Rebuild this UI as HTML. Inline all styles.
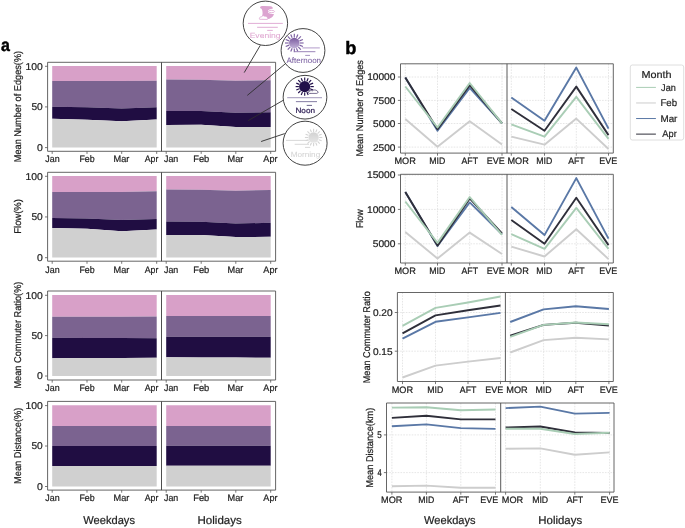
<!DOCTYPE html>
<html><head><meta charset="utf-8"><style>html,body{margin:0;padding:0;background:#fff;}svg{display:block;will-change:transform;font-family:"Liberation Sans",sans-serif;text-rendering:geometricPrecision;}</style></head><body>
<svg width="685" height="528" viewBox="0 0 685 528">
<rect width="685" height="528" fill="#ffffff"/>
<defs><linearGradient id="gaft" x1="0" y1="0" x2="0" y2="1"><stop offset="0" stop-color="#7a5a9e"/><stop offset="1" stop-color="#c2b2d8"/></linearGradient><linearGradient id="gmor" x1="0" y1="0" x2="0" y2="1"><stop offset="0" stop-color="#d2d2d2"/><stop offset="1" stop-color="#e6e6e6"/></linearGradient></defs>
<polygon points="52.20,65.90 87.00,65.90 121.70,65.90 156.70,65.90 156.70,80.70 121.70,80.90 87.00,81.00 52.20,81.05" fill="#d8a0c8"/>
<polygon points="52.20,81.05 87.00,81.00 121.70,80.90 156.70,80.70 156.70,107.30 121.70,108.60 87.00,107.30 52.20,106.80" fill="#7b6390"/>
<polygon points="52.20,106.80 87.00,107.30 121.70,108.60 156.70,107.30 156.70,119.40 121.70,121.20 87.00,119.70 52.20,118.80" fill="#200d42"/>
<polygon points="52.20,118.80 87.00,119.70 121.70,121.20 156.70,119.40 156.70,147.50 121.70,147.50 87.00,147.50 52.20,147.50" fill="#d0d0d0"/>
<polygon points="166.20,65.90 201.20,65.90 235.80,65.90 270.70,65.90 270.70,80.20 235.80,80.70 201.20,79.80 166.20,79.40" fill="#d8a0c8"/>
<polygon points="166.20,79.40 201.20,79.80 235.80,80.70 270.70,80.20 270.70,112.20 235.80,112.70 201.20,110.90 166.20,110.90" fill="#7b6390"/>
<polygon points="166.20,110.90 201.20,110.90 235.80,112.70 270.70,112.20 270.70,126.90 235.80,126.90 201.20,124.80 166.20,125.10" fill="#200d42"/>
<polygon points="166.20,125.10 201.20,124.80 235.80,126.90 270.70,126.90 270.70,147.50 235.80,147.50 201.20,147.50 166.20,147.50" fill="#d0d0d0"/>
<path d="M47.6,62.3H275.6V151.3H47.6Z" fill="none" stroke="#555555" stroke-width="0.9"/>
<line x1="161.5" y1="62.3" x2="161.5" y2="151.3" stroke="#444" stroke-width="0.95"/>
<line x1="45.0" y1="66.30" x2="47.6" y2="66.30" stroke="#555555" stroke-width="0.8"/>
<text x="25.46" y="69.75" font-size="9.9" textLength="17.29" lengthAdjust="spacingAndGlyphs" fill="#1e1e1e" stroke="#1e1e1e" stroke-width="0.22">100</text>
<line x1="45.0" y1="106.90" x2="47.6" y2="106.90" stroke="#555555" stroke-width="0.8"/>
<text x="31.44" y="110.35" font-size="9.9" textLength="11.30" lengthAdjust="spacingAndGlyphs" fill="#1e1e1e" stroke="#1e1e1e" stroke-width="0.22">50</text>
<line x1="45.0" y1="147.60" x2="47.6" y2="147.60" stroke="#555555" stroke-width="0.8"/>
<text x="36.94" y="151.05" font-size="9.9" textLength="5.82" lengthAdjust="spacingAndGlyphs" fill="#1e1e1e" stroke="#1e1e1e" stroke-width="0.22">0</text>
<line x1="52.2" y1="151.3" x2="52.2" y2="153.9" stroke="#555555" stroke-width="0.8"/>
<line x1="87.0" y1="151.3" x2="87.0" y2="153.9" stroke="#555555" stroke-width="0.8"/>
<line x1="121.7" y1="151.3" x2="121.7" y2="153.9" stroke="#555555" stroke-width="0.8"/>
<line x1="156.7" y1="151.3" x2="156.7" y2="153.9" stroke="#555555" stroke-width="0.8"/>
<line x1="166.2" y1="151.3" x2="166.2" y2="153.9" stroke="#555555" stroke-width="0.8"/>
<line x1="201.2" y1="151.3" x2="201.2" y2="153.9" stroke="#555555" stroke-width="0.8"/>
<line x1="235.8" y1="151.3" x2="235.8" y2="153.9" stroke="#555555" stroke-width="0.8"/>
<line x1="270.7" y1="151.3" x2="270.7" y2="153.9" stroke="#555555" stroke-width="0.8"/>
<text x="45.31" y="162.20" font-size="9.4" textLength="14.32" lengthAdjust="spacingAndGlyphs" fill="#1e1e1e" stroke="#1e1e1e" stroke-width="0.22">Jan</text>
<text x="79.42" y="162.20" font-size="9.4" textLength="15.30" lengthAdjust="spacingAndGlyphs" fill="#1e1e1e" stroke="#1e1e1e" stroke-width="0.22">Feb</text>
<text x="113.60" y="162.20" font-size="9.4" textLength="15.81" lengthAdjust="spacingAndGlyphs" fill="#1e1e1e" stroke="#1e1e1e" stroke-width="0.22">Mar</text>
<text x="144.73" y="162.20" font-size="9.4" textLength="13.66" lengthAdjust="spacingAndGlyphs" fill="#1e1e1e" stroke="#1e1e1e" stroke-width="0.22">Apr</text>
<text x="164.01" y="162.20" font-size="9.4" textLength="14.32" lengthAdjust="spacingAndGlyphs" fill="#1e1e1e" stroke="#1e1e1e" stroke-width="0.22">Jan</text>
<text x="193.18" y="162.20" font-size="9.4" textLength="16.16" lengthAdjust="spacingAndGlyphs" fill="#1e1e1e" stroke="#1e1e1e" stroke-width="0.22">Feb</text>
<text x="227.60" y="162.20" font-size="9.4" textLength="15.81" lengthAdjust="spacingAndGlyphs" fill="#1e1e1e" stroke="#1e1e1e" stroke-width="0.22">Mar</text>
<text x="263.33" y="162.20" font-size="9.4" textLength="14.17" lengthAdjust="spacingAndGlyphs" fill="#1e1e1e" stroke="#1e1e1e" stroke-width="0.22">Apr</text>
<text transform="translate(21.00,162.20) rotate(-90)" x="0" y="0" font-size="9.8" textLength="111.32" lengthAdjust="spacingAndGlyphs" fill="#1e1e1e" stroke="#1e1e1e" stroke-width="0.22">Mean Number of Edges(%)</text>
<polygon points="52.20,175.90 87.00,175.90 121.70,175.90 156.70,175.90 156.70,191.20 121.70,191.90 87.00,191.90 52.20,191.90" fill="#d8a0c8"/>
<polygon points="52.20,191.90 87.00,191.90 121.70,191.90 156.70,191.20 156.70,218.90 121.70,220.00 87.00,218.60 52.20,217.90" fill="#7b6390"/>
<polygon points="52.20,217.90 87.00,218.60 121.70,220.00 156.70,218.90 156.70,229.60 121.70,231.20 87.00,228.80 52.20,228.10" fill="#200d42"/>
<polygon points="52.20,228.10 87.00,228.80 121.70,231.20 156.70,229.60 156.70,257.60 121.70,257.60 87.00,257.60 52.20,257.60" fill="#d0d0d0"/>
<polygon points="166.20,175.90 201.20,175.90 235.80,175.90 270.70,175.90 270.70,190.00 235.80,190.70 201.20,189.80 166.20,189.50" fill="#d8a0c8"/>
<polygon points="166.20,189.50 201.20,189.80 235.80,190.70 270.70,190.00 270.70,222.70 235.80,223.60 201.20,221.80 166.20,221.40" fill="#7b6390"/>
<polygon points="166.20,221.40 201.20,221.80 235.80,223.60 270.70,222.70 270.70,236.80 235.80,237.00 201.20,235.00 166.20,235.00" fill="#200d42"/>
<polygon points="166.20,235.00 201.20,235.00 235.80,237.00 270.70,236.80 270.70,257.60 235.80,257.60 201.20,257.60 166.20,257.60" fill="#d0d0d0"/>
<path d="M47.6,172.3H275.6V261.2H47.6Z" fill="none" stroke="#555555" stroke-width="0.9"/>
<line x1="161.5" y1="172.3" x2="161.5" y2="261.2" stroke="#444" stroke-width="0.95"/>
<line x1="45.0" y1="176.30" x2="47.6" y2="176.30" stroke="#555555" stroke-width="0.8"/>
<text x="25.46" y="179.75" font-size="9.9" textLength="17.29" lengthAdjust="spacingAndGlyphs" fill="#1e1e1e" stroke="#1e1e1e" stroke-width="0.22">100</text>
<line x1="45.0" y1="216.95" x2="47.6" y2="216.95" stroke="#555555" stroke-width="0.8"/>
<text x="31.44" y="220.40" font-size="9.9" textLength="11.30" lengthAdjust="spacingAndGlyphs" fill="#1e1e1e" stroke="#1e1e1e" stroke-width="0.22">50</text>
<line x1="45.0" y1="257.70" x2="47.6" y2="257.70" stroke="#555555" stroke-width="0.8"/>
<text x="36.94" y="261.15" font-size="9.9" textLength="5.82" lengthAdjust="spacingAndGlyphs" fill="#1e1e1e" stroke="#1e1e1e" stroke-width="0.22">0</text>
<line x1="52.2" y1="261.2" x2="52.2" y2="263.8" stroke="#555555" stroke-width="0.8"/>
<line x1="87.0" y1="261.2" x2="87.0" y2="263.8" stroke="#555555" stroke-width="0.8"/>
<line x1="121.7" y1="261.2" x2="121.7" y2="263.8" stroke="#555555" stroke-width="0.8"/>
<line x1="156.7" y1="261.2" x2="156.7" y2="263.8" stroke="#555555" stroke-width="0.8"/>
<line x1="166.2" y1="261.2" x2="166.2" y2="263.8" stroke="#555555" stroke-width="0.8"/>
<line x1="201.2" y1="261.2" x2="201.2" y2="263.8" stroke="#555555" stroke-width="0.8"/>
<line x1="235.8" y1="261.2" x2="235.8" y2="263.8" stroke="#555555" stroke-width="0.8"/>
<line x1="270.7" y1="261.2" x2="270.7" y2="263.8" stroke="#555555" stroke-width="0.8"/>
<text x="45.31" y="272.50" font-size="9.4" textLength="14.32" lengthAdjust="spacingAndGlyphs" fill="#1e1e1e" stroke="#1e1e1e" stroke-width="0.22">Jan</text>
<text x="79.42" y="272.50" font-size="9.4" textLength="15.30" lengthAdjust="spacingAndGlyphs" fill="#1e1e1e" stroke="#1e1e1e" stroke-width="0.22">Feb</text>
<text x="113.60" y="272.50" font-size="9.4" textLength="15.81" lengthAdjust="spacingAndGlyphs" fill="#1e1e1e" stroke="#1e1e1e" stroke-width="0.22">Mar</text>
<text x="144.73" y="272.50" font-size="9.4" textLength="13.66" lengthAdjust="spacingAndGlyphs" fill="#1e1e1e" stroke="#1e1e1e" stroke-width="0.22">Apr</text>
<text x="164.01" y="272.50" font-size="9.4" textLength="14.32" lengthAdjust="spacingAndGlyphs" fill="#1e1e1e" stroke="#1e1e1e" stroke-width="0.22">Jan</text>
<text x="193.18" y="272.50" font-size="9.4" textLength="16.16" lengthAdjust="spacingAndGlyphs" fill="#1e1e1e" stroke="#1e1e1e" stroke-width="0.22">Feb</text>
<text x="227.60" y="272.50" font-size="9.4" textLength="15.81" lengthAdjust="spacingAndGlyphs" fill="#1e1e1e" stroke="#1e1e1e" stroke-width="0.22">Mar</text>
<text x="263.33" y="272.50" font-size="9.4" textLength="14.17" lengthAdjust="spacingAndGlyphs" fill="#1e1e1e" stroke="#1e1e1e" stroke-width="0.22">Apr</text>
<text transform="translate(21.00,233.72) rotate(-90)" x="0" y="0" font-size="9.8" textLength="34.56" lengthAdjust="spacingAndGlyphs" fill="#1e1e1e" stroke="#1e1e1e" stroke-width="0.22">Flow(%)</text>
<polygon points="52.20,294.90 87.00,294.90 121.70,294.90 156.70,294.90 156.70,316.50 121.70,316.70 87.00,316.80 52.20,316.80" fill="#d8a0c8"/>
<polygon points="52.20,316.80 87.00,316.80 121.70,316.70 156.70,316.50 156.70,338.20 121.70,338.10 87.00,337.90 52.20,337.80" fill="#7b6390"/>
<polygon points="52.20,337.80 87.00,337.90 121.70,338.10 156.70,338.20 156.70,357.80 121.70,358.00 87.00,358.10 52.20,358.20" fill="#200d42"/>
<polygon points="52.20,358.20 87.00,358.10 121.70,358.00 156.70,357.80 156.70,375.90 121.70,375.90 87.00,375.90 52.20,375.90" fill="#d0d0d0"/>
<polygon points="166.20,294.90 201.20,294.90 235.80,294.90 270.70,294.90 270.70,315.90 235.80,315.90 201.20,315.90 166.20,315.90" fill="#d8a0c8"/>
<polygon points="166.20,315.90 201.20,315.90 235.80,315.90 270.70,315.90 270.70,336.80 235.80,336.80 201.20,336.80 166.20,336.80" fill="#7b6390"/>
<polygon points="166.20,336.80 201.20,336.80 235.80,336.80 270.70,336.80 270.70,357.70 235.80,357.60 201.20,357.40 166.20,357.30" fill="#200d42"/>
<polygon points="166.20,357.30 201.20,357.40 235.80,357.60 270.70,357.70 270.70,375.90 235.80,375.90 201.20,375.90 166.20,375.90" fill="#d0d0d0"/>
<path d="M47.6,291.0H275.6V380.0H47.6Z" fill="none" stroke="#555555" stroke-width="0.9"/>
<line x1="161.5" y1="291.0" x2="161.5" y2="380.0" stroke="#444" stroke-width="0.95"/>
<line x1="45.0" y1="295.30" x2="47.6" y2="295.30" stroke="#555555" stroke-width="0.8"/>
<text x="25.46" y="298.75" font-size="9.9" textLength="17.29" lengthAdjust="spacingAndGlyphs" fill="#1e1e1e" stroke="#1e1e1e" stroke-width="0.22">100</text>
<line x1="45.0" y1="335.60" x2="47.6" y2="335.60" stroke="#555555" stroke-width="0.8"/>
<text x="31.44" y="339.05" font-size="9.9" textLength="11.30" lengthAdjust="spacingAndGlyphs" fill="#1e1e1e" stroke="#1e1e1e" stroke-width="0.22">50</text>
<line x1="45.0" y1="376.00" x2="47.6" y2="376.00" stroke="#555555" stroke-width="0.8"/>
<text x="36.94" y="379.45" font-size="9.9" textLength="5.82" lengthAdjust="spacingAndGlyphs" fill="#1e1e1e" stroke="#1e1e1e" stroke-width="0.22">0</text>
<line x1="52.2" y1="380.0" x2="52.2" y2="382.6" stroke="#555555" stroke-width="0.8"/>
<line x1="87.0" y1="380.0" x2="87.0" y2="382.6" stroke="#555555" stroke-width="0.8"/>
<line x1="121.7" y1="380.0" x2="121.7" y2="382.6" stroke="#555555" stroke-width="0.8"/>
<line x1="156.7" y1="380.0" x2="156.7" y2="382.6" stroke="#555555" stroke-width="0.8"/>
<line x1="166.2" y1="380.0" x2="166.2" y2="382.6" stroke="#555555" stroke-width="0.8"/>
<line x1="201.2" y1="380.0" x2="201.2" y2="382.6" stroke="#555555" stroke-width="0.8"/>
<line x1="235.8" y1="380.0" x2="235.8" y2="382.6" stroke="#555555" stroke-width="0.8"/>
<line x1="270.7" y1="380.0" x2="270.7" y2="382.6" stroke="#555555" stroke-width="0.8"/>
<text x="45.31" y="390.90" font-size="9.4" textLength="14.32" lengthAdjust="spacingAndGlyphs" fill="#1e1e1e" stroke="#1e1e1e" stroke-width="0.22">Jan</text>
<text x="79.42" y="390.90" font-size="9.4" textLength="15.30" lengthAdjust="spacingAndGlyphs" fill="#1e1e1e" stroke="#1e1e1e" stroke-width="0.22">Feb</text>
<text x="113.60" y="390.90" font-size="9.4" textLength="15.81" lengthAdjust="spacingAndGlyphs" fill="#1e1e1e" stroke="#1e1e1e" stroke-width="0.22">Mar</text>
<text x="144.73" y="390.90" font-size="9.4" textLength="13.66" lengthAdjust="spacingAndGlyphs" fill="#1e1e1e" stroke="#1e1e1e" stroke-width="0.22">Apr</text>
<text x="164.01" y="390.90" font-size="9.4" textLength="14.32" lengthAdjust="spacingAndGlyphs" fill="#1e1e1e" stroke="#1e1e1e" stroke-width="0.22">Jan</text>
<text x="193.18" y="390.90" font-size="9.4" textLength="16.16" lengthAdjust="spacingAndGlyphs" fill="#1e1e1e" stroke="#1e1e1e" stroke-width="0.22">Feb</text>
<text x="227.60" y="390.90" font-size="9.4" textLength="15.81" lengthAdjust="spacingAndGlyphs" fill="#1e1e1e" stroke="#1e1e1e" stroke-width="0.22">Mar</text>
<text x="263.33" y="390.90" font-size="9.4" textLength="14.17" lengthAdjust="spacingAndGlyphs" fill="#1e1e1e" stroke="#1e1e1e" stroke-width="0.22">Apr</text>
<text transform="translate(21.40,388.61) rotate(-90)" x="0" y="0" font-size="9.8" textLength="107.03" lengthAdjust="spacingAndGlyphs" fill="#1e1e1e" stroke="#1e1e1e" stroke-width="0.22">Mean Commuter Ratio(%)</text>
<polygon points="52.20,405.20 87.00,405.20 121.70,405.20 156.70,405.20 156.70,425.90 121.70,425.90 87.00,425.90 52.20,425.90" fill="#d8a0c8"/>
<polygon points="52.20,425.90 87.00,425.90 121.70,425.90 156.70,425.90 156.70,445.90 121.70,445.90 87.00,445.90 52.20,445.90" fill="#7b6390"/>
<polygon points="52.20,445.90 87.00,445.90 121.70,445.90 156.70,445.90 156.70,465.90 121.70,465.90 87.00,465.90 52.20,465.90" fill="#200d42"/>
<polygon points="52.20,465.90 87.00,465.90 121.70,465.90 156.70,465.90 156.70,486.40 121.70,486.40 87.00,486.40 52.20,486.40" fill="#d0d0d0"/>
<polygon points="166.20,405.20 201.20,405.20 235.80,405.20 270.70,405.20 270.70,426.00 235.80,426.00 201.20,426.00 166.20,426.00" fill="#d8a0c8"/>
<polygon points="166.20,426.00 201.20,426.00 235.80,426.00 270.70,426.00 270.70,445.70 235.80,445.70 201.20,445.70 166.20,445.70" fill="#7b6390"/>
<polygon points="166.20,445.70 201.20,445.70 235.80,445.70 270.70,445.70 270.70,465.80 235.80,465.80 201.20,465.80 166.20,465.80" fill="#200d42"/>
<polygon points="166.20,465.80 201.20,465.80 235.80,465.80 270.70,465.80 270.70,486.40 235.80,486.40 201.20,486.40 166.20,486.40" fill="#d0d0d0"/>
<path d="M47.6,401.4H275.6V490.1H47.6Z" fill="none" stroke="#555555" stroke-width="0.9"/>
<line x1="161.5" y1="401.4" x2="161.5" y2="490.1" stroke="#444" stroke-width="0.95"/>
<line x1="45.0" y1="405.60" x2="47.6" y2="405.60" stroke="#555555" stroke-width="0.8"/>
<text x="25.46" y="409.05" font-size="9.9" textLength="17.29" lengthAdjust="spacingAndGlyphs" fill="#1e1e1e" stroke="#1e1e1e" stroke-width="0.22">100</text>
<line x1="45.0" y1="446.00" x2="47.6" y2="446.00" stroke="#555555" stroke-width="0.8"/>
<text x="31.44" y="449.45" font-size="9.9" textLength="11.30" lengthAdjust="spacingAndGlyphs" fill="#1e1e1e" stroke="#1e1e1e" stroke-width="0.22">50</text>
<line x1="45.0" y1="486.50" x2="47.6" y2="486.50" stroke="#555555" stroke-width="0.8"/>
<text x="36.94" y="489.95" font-size="9.9" textLength="5.82" lengthAdjust="spacingAndGlyphs" fill="#1e1e1e" stroke="#1e1e1e" stroke-width="0.22">0</text>
<line x1="52.2" y1="490.1" x2="52.2" y2="492.70000000000005" stroke="#555555" stroke-width="0.8"/>
<line x1="87.0" y1="490.1" x2="87.0" y2="492.70000000000005" stroke="#555555" stroke-width="0.8"/>
<line x1="121.7" y1="490.1" x2="121.7" y2="492.70000000000005" stroke="#555555" stroke-width="0.8"/>
<line x1="156.7" y1="490.1" x2="156.7" y2="492.70000000000005" stroke="#555555" stroke-width="0.8"/>
<line x1="166.2" y1="490.1" x2="166.2" y2="492.70000000000005" stroke="#555555" stroke-width="0.8"/>
<line x1="201.2" y1="490.1" x2="201.2" y2="492.70000000000005" stroke="#555555" stroke-width="0.8"/>
<line x1="235.8" y1="490.1" x2="235.8" y2="492.70000000000005" stroke="#555555" stroke-width="0.8"/>
<line x1="270.7" y1="490.1" x2="270.7" y2="492.70000000000005" stroke="#555555" stroke-width="0.8"/>
<text x="45.31" y="501.00" font-size="9.4" textLength="14.32" lengthAdjust="spacingAndGlyphs" fill="#1e1e1e" stroke="#1e1e1e" stroke-width="0.22">Jan</text>
<text x="79.42" y="501.00" font-size="9.4" textLength="15.30" lengthAdjust="spacingAndGlyphs" fill="#1e1e1e" stroke="#1e1e1e" stroke-width="0.22">Feb</text>
<text x="113.60" y="501.00" font-size="9.4" textLength="15.81" lengthAdjust="spacingAndGlyphs" fill="#1e1e1e" stroke="#1e1e1e" stroke-width="0.22">Mar</text>
<text x="144.73" y="501.00" font-size="9.4" textLength="13.66" lengthAdjust="spacingAndGlyphs" fill="#1e1e1e" stroke="#1e1e1e" stroke-width="0.22">Apr</text>
<text x="164.01" y="501.00" font-size="9.4" textLength="14.32" lengthAdjust="spacingAndGlyphs" fill="#1e1e1e" stroke="#1e1e1e" stroke-width="0.22">Jan</text>
<text x="193.18" y="501.00" font-size="9.4" textLength="16.16" lengthAdjust="spacingAndGlyphs" fill="#1e1e1e" stroke="#1e1e1e" stroke-width="0.22">Feb</text>
<text x="227.60" y="501.00" font-size="9.4" textLength="15.81" lengthAdjust="spacingAndGlyphs" fill="#1e1e1e" stroke="#1e1e1e" stroke-width="0.22">Mar</text>
<text x="263.33" y="501.00" font-size="9.4" textLength="14.17" lengthAdjust="spacingAndGlyphs" fill="#1e1e1e" stroke="#1e1e1e" stroke-width="0.22">Apr</text>
<text transform="translate(21.20,484.01) rotate(-90)" x="0" y="0" font-size="9.8" textLength="76.34" lengthAdjust="spacingAndGlyphs" fill="#1e1e1e" stroke="#1e1e1e" stroke-width="0.22">Mean Distance(%)</text>
<text x="83.30" y="524.10" font-size="11.4" textLength="51.65" lengthAdjust="spacingAndGlyphs" fill="#1e1e1e" stroke="#1e1e1e" stroke-width="0.22">Weekdays</text>
<text x="197.50" y="524.10" font-size="11.4" textLength="44.26" lengthAdjust="spacingAndGlyphs" fill="#1e1e1e" stroke="#1e1e1e" stroke-width="0.22">Holidays</text>
<text x="1.08" y="50.60" font-size="17.5" textLength="8.87" lengthAdjust="spacingAndGlyphs" fill="#000" stroke="#000" stroke-width="0.45" font-weight="bold">a</text>
<text x="345.25" y="54.30" font-size="18" textLength="11.15" lengthAdjust="spacingAndGlyphs" fill="#000" stroke="#000" stroke-width="0.45" font-weight="bold">b</text>
<line x1="260.3" y1="45.3" x2="244.2" y2="72.6" stroke="#2e2e2e" stroke-width="0.9"/>
<line x1="285.5" y1="63.6" x2="247.3" y2="95.4" stroke="#2e2e2e" stroke-width="0.9"/>
<line x1="283.2" y1="100.3" x2="248.2" y2="120.6" stroke="#2e2e2e" stroke-width="0.9"/>
<line x1="284.7" y1="133.6" x2="261.1" y2="141.5" stroke="#2e2e2e" stroke-width="0.9"/>
<circle cx="265.4" cy="23.3" r="22.2" fill="#fff" stroke="#2e2e2e" stroke-width="0.9"/>
<circle cx="303.0" cy="50.5" r="21.9" fill="#fff" stroke="#2e2e2e" stroke-width="0.9"/>
<circle cx="305.0" cy="97.2" r="21.85" fill="#fff" stroke="#2e2e2e" stroke-width="0.9"/>
<circle cx="305.1" cy="143.2" r="22.0" fill="#fff" stroke="#2e2e2e" stroke-width="0.9"/>
<path d="M260.0,7.4 C260.2,6.2 262,6.0 264,6.1 L270.5,6.3 C272,6.5 272.9,7.4 272.9,8.6 C271.8,8.8 270.3,9.1 269.2,9.6 C267.6,10.4 267.5,12.6 269.0,13.3 C270.5,14.0 272.4,14.1 273.9,14.0 C273.6,16.6 270.6,18.9 266.8,19.2 L262,19.2 C261.5,17.5 262.4,15.5 262.6,13.5 C262.6,11.5 262.2,9.5 261.4,8.8 C260.7,8.4 260.1,8.0 260.0,7.4 Z" fill="#dca4d0"/>
<ellipse cx="271.5" cy="11.5" rx="3.05" ry="1.15" fill="#fff" stroke="#dca4d0" stroke-width="0.75"/>
<path d="M259.6,19.3 C258.9,17.9 260,16.7 261.4,17.0 C261.8,15.7 263.8,15.1 264.8,16.3 C266,15.9 267.6,16.7 267.4,18.1 C268.2,18.5 267.9,19.4 267,19.4 Z" fill="#fff" stroke="#dca4d0" stroke-width="0.75"/>
<line x1="248.0" y1="23.4" x2="282.8" y2="23.4" stroke="#dca4d0" stroke-width="0.9"/>
<line x1="257.1" y1="27.3" x2="277.8" y2="27.3" stroke="#dca4d0" stroke-width="0.9"/>
<line x1="267.2" y1="30.4" x2="272.8" y2="30.4" stroke="#dca4d0" stroke-width="0.9"/>
<text x="249.65" y="37.90" font-size="7.6" textLength="30.95" lengthAdjust="spacingAndGlyphs" fill="#e0a8d2" stroke="#e0a8d2" stroke-width="0.05">Evening</text>
<line x1="299.90" y1="43.00" x2="303.60" y2="43.00" stroke="#7d60a2" stroke-width="1.15"/>
<line x1="299.47" y1="45.14" x2="302.89" y2="46.56" stroke="#7d60a2" stroke-width="1.15"/>
<line x1="298.26" y1="46.96" x2="300.88" y2="49.58" stroke="#7d60a2" stroke-width="1.15"/>
<line x1="296.44" y1="48.17" x2="297.86" y2="51.59" stroke="#7d60a2" stroke-width="1.15"/>
<line x1="294.30" y1="48.60" x2="294.30" y2="52.30" stroke="#7d60a2" stroke-width="1.15"/>
<line x1="292.16" y1="48.17" x2="290.74" y2="51.59" stroke="#7d60a2" stroke-width="1.15"/>
<line x1="290.34" y1="46.96" x2="287.72" y2="49.58" stroke="#7d60a2" stroke-width="1.15"/>
<line x1="289.13" y1="45.14" x2="285.71" y2="46.56" stroke="#7d60a2" stroke-width="1.15"/>
<line x1="288.70" y1="43.00" x2="285.00" y2="43.00" stroke="#7d60a2" stroke-width="1.15"/>
<line x1="289.13" y1="40.86" x2="285.71" y2="39.44" stroke="#7d60a2" stroke-width="1.15"/>
<line x1="290.34" y1="39.04" x2="287.72" y2="36.42" stroke="#7d60a2" stroke-width="1.15"/>
<line x1="292.16" y1="37.83" x2="290.74" y2="34.41" stroke="#7d60a2" stroke-width="1.15"/>
<line x1="294.30" y1="37.40" x2="294.30" y2="33.70" stroke="#7d60a2" stroke-width="1.15"/>
<line x1="296.44" y1="37.83" x2="297.86" y2="34.41" stroke="#7d60a2" stroke-width="1.15"/>
<line x1="298.26" y1="39.04" x2="300.88" y2="36.42" stroke="#7d60a2" stroke-width="1.15"/>
<line x1="299.47" y1="40.86" x2="302.89" y2="39.44" stroke="#7d60a2" stroke-width="1.15"/>
<circle cx="294.3" cy="43.0" r="5.3" fill="url(#gaft)"/>
<line x1="302.4" y1="47.9" x2="319.8" y2="47.9" stroke="#b9a4cf" stroke-width="1.1"/>
<line x1="295.0" y1="51.7" x2="315.4" y2="51.7" stroke="#9a84b8" stroke-width="1.0"/>
<line x1="305.2" y1="55.4" x2="310.0" y2="55.4" stroke="#9a84b8" stroke-width="0.9"/>
<text x="286.53" y="63.20" font-size="7.8" textLength="34.53" lengthAdjust="spacingAndGlyphs" fill="#7d63a3" stroke="#7d63a3" stroke-width="0.05">Afternoon</text>
<line x1="310.50" y1="86.60" x2="313.80" y2="86.60" stroke="#22104a" stroke-width="1.15"/>
<line x1="310.06" y1="88.82" x2="313.11" y2="90.08" stroke="#22104a" stroke-width="1.15"/>
<line x1="308.80" y1="90.70" x2="311.13" y2="93.03" stroke="#22104a" stroke-width="1.15"/>
<line x1="306.92" y1="91.96" x2="308.18" y2="95.01" stroke="#22104a" stroke-width="1.15"/>
<line x1="304.70" y1="92.40" x2="304.70" y2="95.70" stroke="#22104a" stroke-width="1.15"/>
<line x1="302.48" y1="91.96" x2="301.22" y2="95.01" stroke="#22104a" stroke-width="1.15"/>
<line x1="300.60" y1="90.70" x2="298.27" y2="93.03" stroke="#22104a" stroke-width="1.15"/>
<line x1="299.34" y1="88.82" x2="296.29" y2="90.08" stroke="#22104a" stroke-width="1.15"/>
<line x1="298.90" y1="86.60" x2="295.60" y2="86.60" stroke="#22104a" stroke-width="1.15"/>
<line x1="299.34" y1="84.38" x2="296.29" y2="83.12" stroke="#22104a" stroke-width="1.15"/>
<line x1="300.60" y1="82.50" x2="298.27" y2="80.17" stroke="#22104a" stroke-width="1.15"/>
<line x1="302.48" y1="81.24" x2="301.22" y2="78.19" stroke="#22104a" stroke-width="1.15"/>
<line x1="304.70" y1="80.80" x2="304.70" y2="77.50" stroke="#22104a" stroke-width="1.15"/>
<line x1="306.92" y1="81.24" x2="308.18" y2="78.19" stroke="#22104a" stroke-width="1.15"/>
<line x1="308.80" y1="82.50" x2="311.13" y2="80.17" stroke="#22104a" stroke-width="1.15"/>
<line x1="310.06" y1="84.38" x2="313.11" y2="83.12" stroke="#22104a" stroke-width="1.15"/>
<circle cx="304.7" cy="86.6" r="5.6" fill="#22104a"/>
<path d="M308.4,92.6 C308.6,90.8 311,90.2 312.4,90.8 C313.4,89.6 316.4,89.6 317,91 C318.6,91.4 318.4,93.2 316.8,93.4 L309.4,93.4 Z" fill="#fff" stroke="#22104a" stroke-width="0.6"/>
<line x1="287.2" y1="97.7" x2="322.0" y2="97.7" stroke="#b3abc8" stroke-width="1.3"/>
<line x1="295.9" y1="101.6" x2="317.0" y2="101.6" stroke="#8f87ab" stroke-width="1.1"/>
<line x1="306.7" y1="105.4" x2="312.0" y2="105.4" stroke="#5b5280" stroke-width="0.9"/>
<text x="295.48" y="113.00" font-size="7.5" textLength="19.50" lengthAdjust="spacingAndGlyphs" fill="#2a1a52" stroke="#2a1a52" stroke-width="0.2">Noon</text>
<line x1="319.20" y1="137.50" x2="322.30" y2="137.50" stroke="#d4d4d4" stroke-width="1.1"/>
<line x1="318.77" y1="139.64" x2="321.64" y2="140.83" stroke="#d4d4d4" stroke-width="1.1"/>
<line x1="317.56" y1="141.46" x2="319.75" y2="143.65" stroke="#d4d4d4" stroke-width="1.1"/>
<line x1="315.74" y1="142.67" x2="316.93" y2="145.54" stroke="#d4d4d4" stroke-width="1.1"/>
<line x1="313.60" y1="143.10" x2="313.60" y2="146.20" stroke="#d4d4d4" stroke-width="1.1"/>
<line x1="311.46" y1="142.67" x2="310.27" y2="145.54" stroke="#d4d4d4" stroke-width="1.1"/>
<line x1="309.64" y1="141.46" x2="307.45" y2="143.65" stroke="#d4d4d4" stroke-width="1.1"/>
<line x1="308.43" y1="139.64" x2="305.56" y2="140.83" stroke="#d4d4d4" stroke-width="1.1"/>
<line x1="308.00" y1="137.50" x2="304.90" y2="137.50" stroke="#d4d4d4" stroke-width="1.1"/>
<line x1="308.43" y1="135.36" x2="305.56" y2="134.17" stroke="#d4d4d4" stroke-width="1.1"/>
<line x1="309.64" y1="133.54" x2="307.45" y2="131.35" stroke="#d4d4d4" stroke-width="1.1"/>
<line x1="311.46" y1="132.33" x2="310.27" y2="129.46" stroke="#d4d4d4" stroke-width="1.1"/>
<line x1="313.60" y1="131.90" x2="313.60" y2="128.80" stroke="#d4d4d4" stroke-width="1.1"/>
<line x1="315.74" y1="132.33" x2="316.93" y2="129.46" stroke="#d4d4d4" stroke-width="1.1"/>
<line x1="317.56" y1="133.54" x2="319.75" y2="131.35" stroke="#d4d4d4" stroke-width="1.1"/>
<line x1="318.77" y1="135.36" x2="321.64" y2="134.17" stroke="#d4d4d4" stroke-width="1.1"/>
<circle cx="313.6" cy="137.5" r="5.2" fill="url(#gmor)"/>
<line x1="286.0" y1="140.4" x2="308.6" y2="140.4" stroke="#d4d4d4" stroke-width="0.9"/>
<line x1="294.7" y1="144.3" x2="309.0" y2="144.3" stroke="#d4d4d4" stroke-width="0.9"/>
<line x1="305.0" y1="147.4" x2="310.2" y2="147.4" stroke="#d4d4d4" stroke-width="0.9"/>
<text x="290.68" y="156.80" font-size="7.6" textLength="29.50" lengthAdjust="spacingAndGlyphs" fill="#d4d4d4" stroke="#d4d4d4" stroke-width="0.05">Morning</text>
<line x1="405.3" y1="63.8" x2="405.3" y2="153.1" stroke="#e0e0e0" stroke-width="0.8" stroke-dasharray="1.6,1.2"/>
<line x1="437.5" y1="63.8" x2="437.5" y2="153.1" stroke="#e0e0e0" stroke-width="0.8" stroke-dasharray="1.6,1.2"/>
<line x1="469.7" y1="63.8" x2="469.7" y2="153.1" stroke="#e0e0e0" stroke-width="0.8" stroke-dasharray="1.6,1.2"/>
<line x1="502.0" y1="63.8" x2="502.0" y2="153.1" stroke="#e0e0e0" stroke-width="0.8" stroke-dasharray="1.6,1.2"/>
<line x1="511.3" y1="63.8" x2="511.3" y2="153.1" stroke="#e0e0e0" stroke-width="0.8" stroke-dasharray="1.6,1.2"/>
<line x1="544.5" y1="63.8" x2="544.5" y2="153.1" stroke="#e0e0e0" stroke-width="0.8" stroke-dasharray="1.6,1.2"/>
<line x1="576.3" y1="63.8" x2="576.3" y2="153.1" stroke="#e0e0e0" stroke-width="0.8" stroke-dasharray="1.6,1.2"/>
<line x1="608.5" y1="63.8" x2="608.5" y2="153.1" stroke="#e0e0e0" stroke-width="0.8" stroke-dasharray="1.6,1.2"/>
<line x1="400.5" y1="77.0" x2="613.3" y2="77.0" stroke="#e0e0e0" stroke-width="0.8" stroke-dasharray="1.6,1.2"/>
<line x1="400.5" y1="100.4" x2="613.3" y2="100.4" stroke="#e0e0e0" stroke-width="0.8" stroke-dasharray="1.6,1.2"/>
<line x1="400.5" y1="123.5" x2="613.3" y2="123.5" stroke="#e0e0e0" stroke-width="0.8" stroke-dasharray="1.6,1.2"/>
<line x1="400.5" y1="147.1" x2="613.3" y2="147.1" stroke="#e0e0e0" stroke-width="0.8" stroke-dasharray="1.6,1.2"/>
<polyline points="405.30,119.00 437.50,146.70 469.70,121.20 502.00,144.60" fill="none" stroke="#cdcdcd" stroke-width="1.9" stroke-linejoin="round" stroke-linecap="butt"/>
<polyline points="511.30,136.70 544.50,144.70 576.30,118.60 608.50,149.00" fill="none" stroke="#cdcdcd" stroke-width="1.9" stroke-linejoin="round" stroke-linecap="butt"/>
<polyline points="405.30,77.60 437.50,130.70 469.70,87.90 502.00,123.30" fill="none" stroke="#5a78a6" stroke-width="1.9" stroke-linejoin="round" stroke-linecap="butt"/>
<polyline points="511.30,97.50 544.50,120.80 576.30,67.60 608.50,128.60" fill="none" stroke="#5a78a6" stroke-width="1.9" stroke-linejoin="round" stroke-linecap="butt"/>
<polyline points="405.30,77.60 437.50,129.30 469.70,85.20 502.00,123.30" fill="none" stroke="#2f2f3a" stroke-width="1.9" stroke-linejoin="round" stroke-linecap="butt"/>
<polyline points="511.30,109.00 544.50,130.80 576.30,86.60 608.50,135.10" fill="none" stroke="#2f2f3a" stroke-width="1.9" stroke-linejoin="round" stroke-linecap="butt"/>
<polyline points="405.30,86.50 437.50,127.50 469.70,83.00 502.00,123.30" fill="none" stroke="#a9cdb5" stroke-width="1.9" stroke-linejoin="round" stroke-linecap="butt"/>
<polyline points="511.30,124.30 544.50,136.70 576.30,96.80 608.50,138.80" fill="none" stroke="#a9cdb5" stroke-width="1.9" stroke-linejoin="round" stroke-linecap="butt"/>
<path d="M400.5,63.8H613.3V153.1H400.5Z" fill="none" stroke="#555555" stroke-width="0.9"/>
<line x1="507.0" y1="63.8" x2="507.0" y2="153.1" stroke="#505050" stroke-width="0.95"/>
<line x1="397.9" y1="77.0" x2="400.5" y2="77.0" stroke="#555555" stroke-width="0.8"/>
<text x="367.18" y="80.45" font-size="9.7" textLength="28.27" lengthAdjust="spacingAndGlyphs" fill="#1e1e1e" stroke="#1e1e1e" stroke-width="0.22">10000</text>
<line x1="397.9" y1="100.4" x2="400.5" y2="100.4" stroke="#555555" stroke-width="0.8"/>
<text x="372.93" y="103.85" font-size="9.7" textLength="22.51" lengthAdjust="spacingAndGlyphs" fill="#1e1e1e" stroke="#1e1e1e" stroke-width="0.22">7500</text>
<line x1="397.9" y1="123.5" x2="400.5" y2="123.5" stroke="#555555" stroke-width="0.8"/>
<text x="373.05" y="126.95" font-size="9.7" textLength="22.40" lengthAdjust="spacingAndGlyphs" fill="#1e1e1e" stroke="#1e1e1e" stroke-width="0.22">5000</text>
<line x1="397.9" y1="147.1" x2="400.5" y2="147.1" stroke="#555555" stroke-width="0.8"/>
<text x="372.94" y="150.55" font-size="9.7" textLength="22.50" lengthAdjust="spacingAndGlyphs" fill="#1e1e1e" stroke="#1e1e1e" stroke-width="0.22">2500</text>
<line x1="405.3" y1="153.1" x2="405.3" y2="155.7" stroke="#555555" stroke-width="0.8"/>
<line x1="437.5" y1="153.1" x2="437.5" y2="155.7" stroke="#555555" stroke-width="0.8"/>
<line x1="469.7" y1="153.1" x2="469.7" y2="155.7" stroke="#555555" stroke-width="0.8"/>
<line x1="502.0" y1="153.1" x2="502.0" y2="155.7" stroke="#555555" stroke-width="0.8"/>
<line x1="511.3" y1="153.1" x2="511.3" y2="155.7" stroke="#555555" stroke-width="0.8"/>
<line x1="544.5" y1="153.1" x2="544.5" y2="155.7" stroke="#555555" stroke-width="0.8"/>
<line x1="576.3" y1="153.1" x2="576.3" y2="155.7" stroke="#555555" stroke-width="0.8"/>
<line x1="608.5" y1="153.1" x2="608.5" y2="155.7" stroke="#555555" stroke-width="0.8"/>
<text x="394.45" y="164.30" font-size="9.3" textLength="21.38" lengthAdjust="spacingAndGlyphs" fill="#1e1e1e" stroke="#1e1e1e" stroke-width="0.22">MOR</text>
<text x="429.33" y="164.30" font-size="9.3" textLength="16.04" lengthAdjust="spacingAndGlyphs" fill="#1e1e1e" stroke="#1e1e1e" stroke-width="0.22">MID</text>
<text x="461.53" y="164.30" font-size="9.3" textLength="16.52" lengthAdjust="spacingAndGlyphs" fill="#1e1e1e" stroke="#1e1e1e" stroke-width="0.22">AFT</text>
<text x="486.81" y="164.30" font-size="9.3" textLength="18.03" lengthAdjust="spacingAndGlyphs" fill="#1e1e1e" stroke="#1e1e1e" stroke-width="0.22">EVE</text>
<text x="507.45" y="164.30" font-size="9.3" textLength="21.38" lengthAdjust="spacingAndGlyphs" fill="#1e1e1e" stroke="#1e1e1e" stroke-width="0.22">MOR</text>
<text x="536.33" y="164.30" font-size="9.3" textLength="16.04" lengthAdjust="spacingAndGlyphs" fill="#1e1e1e" stroke="#1e1e1e" stroke-width="0.22">MID</text>
<text x="568.13" y="164.30" font-size="9.3" textLength="16.52" lengthAdjust="spacingAndGlyphs" fill="#1e1e1e" stroke="#1e1e1e" stroke-width="0.22">AFT</text>
<text x="599.31" y="164.30" font-size="9.3" textLength="18.03" lengthAdjust="spacingAndGlyphs" fill="#1e1e1e" stroke="#1e1e1e" stroke-width="0.22">EVE</text>
<text transform="translate(362.60,156.60) rotate(-90)" x="0" y="0" font-size="9.8" textLength="96.48" lengthAdjust="spacingAndGlyphs" fill="#1e1e1e" stroke="#1e1e1e" stroke-width="0.22">Mean Number of Edges</text>
<line x1="405.3" y1="174.3" x2="405.3" y2="263.0" stroke="#e0e0e0" stroke-width="0.8" stroke-dasharray="1.6,1.2"/>
<line x1="437.5" y1="174.3" x2="437.5" y2="263.0" stroke="#e0e0e0" stroke-width="0.8" stroke-dasharray="1.6,1.2"/>
<line x1="469.7" y1="174.3" x2="469.7" y2="263.0" stroke="#e0e0e0" stroke-width="0.8" stroke-dasharray="1.6,1.2"/>
<line x1="502.0" y1="174.3" x2="502.0" y2="263.0" stroke="#e0e0e0" stroke-width="0.8" stroke-dasharray="1.6,1.2"/>
<line x1="511.3" y1="174.3" x2="511.3" y2="263.0" stroke="#e0e0e0" stroke-width="0.8" stroke-dasharray="1.6,1.2"/>
<line x1="544.5" y1="174.3" x2="544.5" y2="263.0" stroke="#e0e0e0" stroke-width="0.8" stroke-dasharray="1.6,1.2"/>
<line x1="576.3" y1="174.3" x2="576.3" y2="263.0" stroke="#e0e0e0" stroke-width="0.8" stroke-dasharray="1.6,1.2"/>
<line x1="608.5" y1="174.3" x2="608.5" y2="263.0" stroke="#e0e0e0" stroke-width="0.8" stroke-dasharray="1.6,1.2"/>
<line x1="400.5" y1="175.0" x2="613.3" y2="175.0" stroke="#e0e0e0" stroke-width="0.8" stroke-dasharray="1.6,1.2"/>
<line x1="400.5" y1="209.4" x2="613.3" y2="209.4" stroke="#e0e0e0" stroke-width="0.8" stroke-dasharray="1.6,1.2"/>
<line x1="400.5" y1="243.8" x2="613.3" y2="243.8" stroke="#e0e0e0" stroke-width="0.8" stroke-dasharray="1.6,1.2"/>
<polyline points="405.30,232.10 437.50,258.50 469.70,232.60 502.00,254.00" fill="none" stroke="#cdcdcd" stroke-width="1.9" stroke-linejoin="round" stroke-linecap="butt"/>
<polyline points="511.30,246.70 544.50,256.50 576.30,229.20 608.50,259.10" fill="none" stroke="#cdcdcd" stroke-width="1.9" stroke-linejoin="round" stroke-linecap="butt"/>
<polyline points="405.30,192.00 437.50,246.00 469.70,202.40 502.00,234.40" fill="none" stroke="#5a78a6" stroke-width="1.9" stroke-linejoin="round" stroke-linecap="butt"/>
<polyline points="511.30,207.00 544.50,235.10 576.30,178.10 608.50,238.60" fill="none" stroke="#5a78a6" stroke-width="1.9" stroke-linejoin="round" stroke-linecap="butt"/>
<polyline points="405.30,192.00 437.50,245.60 469.70,198.40 502.00,233.30" fill="none" stroke="#2f2f3a" stroke-width="1.9" stroke-linejoin="round" stroke-linecap="butt"/>
<polyline points="511.30,219.90 544.50,243.80 576.30,197.70 608.50,245.10" fill="none" stroke="#2f2f3a" stroke-width="1.9" stroke-linejoin="round" stroke-linecap="butt"/>
<polyline points="405.30,201.50 437.50,242.90 469.70,197.00 502.00,234.80" fill="none" stroke="#a9cdb5" stroke-width="1.9" stroke-linejoin="round" stroke-linecap="butt"/>
<polyline points="511.30,234.20 544.50,248.80 576.30,207.90 608.50,248.80" fill="none" stroke="#a9cdb5" stroke-width="1.9" stroke-linejoin="round" stroke-linecap="butt"/>
<path d="M400.5,174.3H613.3V263.0H400.5Z" fill="none" stroke="#555555" stroke-width="0.9"/>
<line x1="507.0" y1="174.3" x2="507.0" y2="263.0" stroke="#505050" stroke-width="0.95"/>
<line x1="397.9" y1="175.0" x2="400.5" y2="175.0" stroke="#555555" stroke-width="0.8"/>
<text x="366.97" y="178.45" font-size="9.7" textLength="28.48" lengthAdjust="spacingAndGlyphs" fill="#1e1e1e" stroke="#1e1e1e" stroke-width="0.22">15000</text>
<line x1="397.9" y1="209.4" x2="400.5" y2="209.4" stroke="#555555" stroke-width="0.8"/>
<text x="366.97" y="212.85" font-size="9.7" textLength="28.48" lengthAdjust="spacingAndGlyphs" fill="#1e1e1e" stroke="#1e1e1e" stroke-width="0.22">10000</text>
<line x1="397.9" y1="243.8" x2="400.5" y2="243.8" stroke="#555555" stroke-width="0.8"/>
<text x="372.74" y="247.25" font-size="9.7" textLength="22.71" lengthAdjust="spacingAndGlyphs" fill="#1e1e1e" stroke="#1e1e1e" stroke-width="0.22">5000</text>
<line x1="405.3" y1="263.0" x2="405.3" y2="265.6" stroke="#555555" stroke-width="0.8"/>
<line x1="437.5" y1="263.0" x2="437.5" y2="265.6" stroke="#555555" stroke-width="0.8"/>
<line x1="469.7" y1="263.0" x2="469.7" y2="265.6" stroke="#555555" stroke-width="0.8"/>
<line x1="502.0" y1="263.0" x2="502.0" y2="265.6" stroke="#555555" stroke-width="0.8"/>
<line x1="511.3" y1="263.0" x2="511.3" y2="265.6" stroke="#555555" stroke-width="0.8"/>
<line x1="544.5" y1="263.0" x2="544.5" y2="265.6" stroke="#555555" stroke-width="0.8"/>
<line x1="576.3" y1="263.0" x2="576.3" y2="265.6" stroke="#555555" stroke-width="0.8"/>
<line x1="608.5" y1="263.0" x2="608.5" y2="265.6" stroke="#555555" stroke-width="0.8"/>
<text x="394.45" y="274.20" font-size="9.3" textLength="21.38" lengthAdjust="spacingAndGlyphs" fill="#1e1e1e" stroke="#1e1e1e" stroke-width="0.22">MOR</text>
<text x="429.33" y="274.20" font-size="9.3" textLength="16.04" lengthAdjust="spacingAndGlyphs" fill="#1e1e1e" stroke="#1e1e1e" stroke-width="0.22">MID</text>
<text x="461.53" y="274.20" font-size="9.3" textLength="16.52" lengthAdjust="spacingAndGlyphs" fill="#1e1e1e" stroke="#1e1e1e" stroke-width="0.22">AFT</text>
<text x="486.81" y="274.20" font-size="9.3" textLength="18.03" lengthAdjust="spacingAndGlyphs" fill="#1e1e1e" stroke="#1e1e1e" stroke-width="0.22">EVE</text>
<text x="507.45" y="274.20" font-size="9.3" textLength="21.38" lengthAdjust="spacingAndGlyphs" fill="#1e1e1e" stroke="#1e1e1e" stroke-width="0.22">MOR</text>
<text x="536.33" y="274.20" font-size="9.3" textLength="16.04" lengthAdjust="spacingAndGlyphs" fill="#1e1e1e" stroke="#1e1e1e" stroke-width="0.22">MID</text>
<text x="568.13" y="274.20" font-size="9.3" textLength="16.52" lengthAdjust="spacingAndGlyphs" fill="#1e1e1e" stroke="#1e1e1e" stroke-width="0.22">AFT</text>
<text x="599.31" y="274.20" font-size="9.3" textLength="18.03" lengthAdjust="spacingAndGlyphs" fill="#1e1e1e" stroke="#1e1e1e" stroke-width="0.22">EVE</text>
<text transform="translate(362.60,228.08) rotate(-90)" x="0" y="0" font-size="9.8" textLength="18.71" lengthAdjust="spacingAndGlyphs" fill="#1e1e1e" stroke="#1e1e1e" stroke-width="0.22">Flow</text>
<line x1="402.5" y1="292.5" x2="402.5" y2="381.5" stroke="#e0e0e0" stroke-width="0.8" stroke-dasharray="1.6,1.2"/>
<line x1="435.5" y1="292.5" x2="435.5" y2="381.5" stroke="#e0e0e0" stroke-width="0.8" stroke-dasharray="1.6,1.2"/>
<line x1="468.0" y1="292.5" x2="468.0" y2="381.5" stroke="#e0e0e0" stroke-width="0.8" stroke-dasharray="1.6,1.2"/>
<line x1="500.5" y1="292.5" x2="500.5" y2="381.5" stroke="#e0e0e0" stroke-width="0.8" stroke-dasharray="1.6,1.2"/>
<line x1="510.2" y1="292.5" x2="510.2" y2="381.5" stroke="#e0e0e0" stroke-width="0.8" stroke-dasharray="1.6,1.2"/>
<line x1="543.6" y1="292.5" x2="543.6" y2="381.5" stroke="#e0e0e0" stroke-width="0.8" stroke-dasharray="1.6,1.2"/>
<line x1="575.8" y1="292.5" x2="575.8" y2="381.5" stroke="#e0e0e0" stroke-width="0.8" stroke-dasharray="1.6,1.2"/>
<line x1="608.9" y1="292.5" x2="608.9" y2="381.5" stroke="#e0e0e0" stroke-width="0.8" stroke-dasharray="1.6,1.2"/>
<line x1="397.4" y1="312.5" x2="613.3" y2="312.5" stroke="#e0e0e0" stroke-width="0.8" stroke-dasharray="1.6,1.2"/>
<line x1="397.4" y1="351.2" x2="613.3" y2="351.2" stroke="#e0e0e0" stroke-width="0.8" stroke-dasharray="1.6,1.2"/>
<polyline points="402.50,377.50 435.50,365.60 468.00,361.60 500.50,358.00" fill="none" stroke="#cdcdcd" stroke-width="1.9" stroke-linejoin="round" stroke-linecap="butt"/>
<polyline points="510.20,352.50 543.60,340.10 575.80,337.70 608.90,339.40" fill="none" stroke="#cdcdcd" stroke-width="1.9" stroke-linejoin="round" stroke-linecap="butt"/>
<polyline points="402.50,338.70 435.50,321.80 468.00,317.40 500.50,312.90" fill="none" stroke="#5a78a6" stroke-width="1.9" stroke-linejoin="round" stroke-linecap="butt"/>
<polyline points="510.20,322.00 543.60,309.40 575.80,306.30 608.90,309.00" fill="none" stroke="#5a78a6" stroke-width="1.9" stroke-linejoin="round" stroke-linecap="butt"/>
<polyline points="402.50,333.30 435.50,315.40 468.00,310.30 500.50,305.50" fill="none" stroke="#2f2f3a" stroke-width="1.9" stroke-linejoin="round" stroke-linecap="butt"/>
<polyline points="510.20,335.70 543.60,324.90 575.80,322.70 608.90,325.50" fill="none" stroke="#2f2f3a" stroke-width="1.9" stroke-linejoin="round" stroke-linecap="butt"/>
<polyline points="402.50,325.80 435.50,307.90 468.00,302.50 500.50,296.50" fill="none" stroke="#a9cdb5" stroke-width="1.9" stroke-linejoin="round" stroke-linecap="butt"/>
<polyline points="510.20,336.80 543.60,324.90 575.80,322.50 608.90,324.20" fill="none" stroke="#a9cdb5" stroke-width="1.9" stroke-linejoin="round" stroke-linecap="butt"/>
<path d="M397.4,292.5H613.3V381.5H397.4Z" fill="none" stroke="#555555" stroke-width="0.9"/>
<line x1="505.4" y1="292.5" x2="505.4" y2="381.5" stroke="#505050" stroke-width="0.95"/>
<line x1="394.79999999999995" y1="312.5" x2="397.4" y2="312.5" stroke="#555555" stroke-width="0.8"/>
<text x="372.96" y="315.95" font-size="9.7" textLength="19.59" lengthAdjust="spacingAndGlyphs" fill="#1e1e1e" stroke="#1e1e1e" stroke-width="0.22">0.20</text>
<line x1="394.79999999999995" y1="351.2" x2="397.4" y2="351.2" stroke="#555555" stroke-width="0.8"/>
<text x="372.96" y="354.65" font-size="9.7" textLength="19.62" lengthAdjust="spacingAndGlyphs" fill="#1e1e1e" stroke="#1e1e1e" stroke-width="0.22">0.15</text>
<line x1="402.5" y1="381.5" x2="402.5" y2="384.1" stroke="#555555" stroke-width="0.8"/>
<line x1="435.5" y1="381.5" x2="435.5" y2="384.1" stroke="#555555" stroke-width="0.8"/>
<line x1="468.0" y1="381.5" x2="468.0" y2="384.1" stroke="#555555" stroke-width="0.8"/>
<line x1="500.5" y1="381.5" x2="500.5" y2="384.1" stroke="#555555" stroke-width="0.8"/>
<line x1="510.2" y1="381.5" x2="510.2" y2="384.1" stroke="#555555" stroke-width="0.8"/>
<line x1="543.6" y1="381.5" x2="543.6" y2="384.1" stroke="#555555" stroke-width="0.8"/>
<line x1="575.8" y1="381.5" x2="575.8" y2="384.1" stroke="#555555" stroke-width="0.8"/>
<line x1="608.9" y1="381.5" x2="608.9" y2="384.1" stroke="#555555" stroke-width="0.8"/>
<text x="391.65" y="392.70" font-size="9.3" textLength="21.38" lengthAdjust="spacingAndGlyphs" fill="#1e1e1e" stroke="#1e1e1e" stroke-width="0.22">MOR</text>
<text x="427.33" y="392.70" font-size="9.3" textLength="16.04" lengthAdjust="spacingAndGlyphs" fill="#1e1e1e" stroke="#1e1e1e" stroke-width="0.22">MID</text>
<text x="459.83" y="392.70" font-size="9.3" textLength="16.52" lengthAdjust="spacingAndGlyphs" fill="#1e1e1e" stroke="#1e1e1e" stroke-width="0.22">AFT</text>
<text x="485.31" y="392.70" font-size="9.3" textLength="18.03" lengthAdjust="spacingAndGlyphs" fill="#1e1e1e" stroke="#1e1e1e" stroke-width="0.22">EVE</text>
<text x="506.35" y="392.70" font-size="9.3" textLength="21.38" lengthAdjust="spacingAndGlyphs" fill="#1e1e1e" stroke="#1e1e1e" stroke-width="0.22">MOR</text>
<text x="535.43" y="392.70" font-size="9.3" textLength="16.04" lengthAdjust="spacingAndGlyphs" fill="#1e1e1e" stroke="#1e1e1e" stroke-width="0.22">MID</text>
<text x="567.63" y="392.70" font-size="9.3" textLength="16.52" lengthAdjust="spacingAndGlyphs" fill="#1e1e1e" stroke="#1e1e1e" stroke-width="0.22">AFT</text>
<text x="599.71" y="392.70" font-size="9.3" textLength="18.03" lengthAdjust="spacingAndGlyphs" fill="#1e1e1e" stroke="#1e1e1e" stroke-width="0.22">EVE</text>
<text transform="translate(370.00,383.30) rotate(-90)" x="0" y="0" font-size="9.8" textLength="92.03" lengthAdjust="spacingAndGlyphs" fill="#1e1e1e" stroke="#1e1e1e" stroke-width="0.22">Mean Commuter Ratio</text>
<line x1="391.9" y1="403.0" x2="391.9" y2="492.1" stroke="#e0e0e0" stroke-width="0.8" stroke-dasharray="1.6,1.2"/>
<line x1="426.4" y1="403.0" x2="426.4" y2="492.1" stroke="#e0e0e0" stroke-width="0.8" stroke-dasharray="1.6,1.2"/>
<line x1="460.8" y1="403.0" x2="460.8" y2="492.1" stroke="#e0e0e0" stroke-width="0.8" stroke-dasharray="1.6,1.2"/>
<line x1="495.5" y1="403.0" x2="495.5" y2="492.1" stroke="#e0e0e0" stroke-width="0.8" stroke-dasharray="1.6,1.2"/>
<line x1="505.6" y1="403.0" x2="505.6" y2="492.1" stroke="#e0e0e0" stroke-width="0.8" stroke-dasharray="1.6,1.2"/>
<line x1="540.3" y1="403.0" x2="540.3" y2="492.1" stroke="#e0e0e0" stroke-width="0.8" stroke-dasharray="1.6,1.2"/>
<line x1="574.8" y1="403.0" x2="574.8" y2="492.1" stroke="#e0e0e0" stroke-width="0.8" stroke-dasharray="1.6,1.2"/>
<line x1="609.6" y1="403.0" x2="609.6" y2="492.1" stroke="#e0e0e0" stroke-width="0.8" stroke-dasharray="1.6,1.2"/>
<line x1="386.5" y1="434.9" x2="614.0" y2="434.9" stroke="#e0e0e0" stroke-width="0.8" stroke-dasharray="1.6,1.2"/>
<line x1="386.5" y1="472.6" x2="614.0" y2="472.6" stroke="#e0e0e0" stroke-width="0.8" stroke-dasharray="1.6,1.2"/>
<polyline points="391.90,486.20 426.40,485.60 460.80,487.70 495.50,487.70" fill="none" stroke="#cdcdcd" stroke-width="1.9" stroke-linejoin="round" stroke-linecap="butt"/>
<polyline points="505.60,448.70 540.30,448.40 574.80,454.70 609.60,452.40" fill="none" stroke="#cdcdcd" stroke-width="1.9" stroke-linejoin="round" stroke-linecap="butt"/>
<polyline points="391.90,426.30 426.40,424.40 460.80,428.10 495.50,428.90" fill="none" stroke="#5a78a6" stroke-width="1.9" stroke-linejoin="round" stroke-linecap="butt"/>
<polyline points="505.60,408.10 540.30,406.60 574.80,413.60 609.60,412.90" fill="none" stroke="#5a78a6" stroke-width="1.9" stroke-linejoin="round" stroke-linecap="butt"/>
<polyline points="391.90,417.90 426.40,415.80 460.80,419.40 495.50,419.40" fill="none" stroke="#2f2f3a" stroke-width="1.9" stroke-linejoin="round" stroke-linecap="butt"/>
<polyline points="505.60,427.50 540.30,426.50 574.80,432.50 609.60,433.00" fill="none" stroke="#2f2f3a" stroke-width="1.9" stroke-linejoin="round" stroke-linecap="butt"/>
<polyline points="391.90,407.60 426.40,407.30 460.80,410.20 495.50,409.50" fill="none" stroke="#a9cdb5" stroke-width="1.9" stroke-linejoin="round" stroke-linecap="butt"/>
<polyline points="505.60,428.80 540.30,428.80 574.80,434.00 609.60,432.80" fill="none" stroke="#a9cdb5" stroke-width="1.9" stroke-linejoin="round" stroke-linecap="butt"/>
<path d="M386.5,403.0H614.0V492.1H386.5Z" fill="none" stroke="#555555" stroke-width="0.9"/>
<line x1="500.7" y1="403.0" x2="500.7" y2="492.1" stroke="#505050" stroke-width="0.95"/>
<line x1="383.9" y1="434.9" x2="386.5" y2="434.9" stroke="#555555" stroke-width="0.8"/>
<text x="377.33" y="438.35" font-size="9.7" textLength="4.46" lengthAdjust="spacingAndGlyphs" fill="#1e1e1e" stroke="#1e1e1e" stroke-width="0.22">5</text>
<line x1="383.9" y1="472.6" x2="386.5" y2="472.6" stroke="#555555" stroke-width="0.8"/>
<text x="377.48" y="476.05" font-size="9.7" textLength="4.19" lengthAdjust="spacingAndGlyphs" fill="#1e1e1e" stroke="#1e1e1e" stroke-width="0.22">4</text>
<line x1="391.9" y1="492.1" x2="391.9" y2="494.70000000000005" stroke="#555555" stroke-width="0.8"/>
<line x1="426.4" y1="492.1" x2="426.4" y2="494.70000000000005" stroke="#555555" stroke-width="0.8"/>
<line x1="460.8" y1="492.1" x2="460.8" y2="494.70000000000005" stroke="#555555" stroke-width="0.8"/>
<line x1="495.5" y1="492.1" x2="495.5" y2="494.70000000000005" stroke="#555555" stroke-width="0.8"/>
<line x1="505.6" y1="492.1" x2="505.6" y2="494.70000000000005" stroke="#555555" stroke-width="0.8"/>
<line x1="540.3" y1="492.1" x2="540.3" y2="494.70000000000005" stroke="#555555" stroke-width="0.8"/>
<line x1="574.8" y1="492.1" x2="574.8" y2="494.70000000000005" stroke="#555555" stroke-width="0.8"/>
<line x1="609.6" y1="492.1" x2="609.6" y2="494.70000000000005" stroke="#555555" stroke-width="0.8"/>
<text x="381.05" y="503.30" font-size="9.3" textLength="21.38" lengthAdjust="spacingAndGlyphs" fill="#1e1e1e" stroke="#1e1e1e" stroke-width="0.22">MOR</text>
<text x="418.23" y="503.30" font-size="9.3" textLength="16.04" lengthAdjust="spacingAndGlyphs" fill="#1e1e1e" stroke="#1e1e1e" stroke-width="0.22">MID</text>
<text x="452.63" y="503.30" font-size="9.3" textLength="16.52" lengthAdjust="spacingAndGlyphs" fill="#1e1e1e" stroke="#1e1e1e" stroke-width="0.22">AFT</text>
<text x="480.31" y="503.30" font-size="9.3" textLength="18.03" lengthAdjust="spacingAndGlyphs" fill="#1e1e1e" stroke="#1e1e1e" stroke-width="0.22">EVE</text>
<text x="501.75" y="503.30" font-size="9.3" textLength="21.38" lengthAdjust="spacingAndGlyphs" fill="#1e1e1e" stroke="#1e1e1e" stroke-width="0.22">MOR</text>
<text x="532.13" y="503.30" font-size="9.3" textLength="16.04" lengthAdjust="spacingAndGlyphs" fill="#1e1e1e" stroke="#1e1e1e" stroke-width="0.22">MID</text>
<text x="566.63" y="503.30" font-size="9.3" textLength="16.52" lengthAdjust="spacingAndGlyphs" fill="#1e1e1e" stroke="#1e1e1e" stroke-width="0.22">AFT</text>
<text x="600.41" y="503.30" font-size="9.3" textLength="18.03" lengthAdjust="spacingAndGlyphs" fill="#1e1e1e" stroke="#1e1e1e" stroke-width="0.22">EVE</text>
<text transform="translate(372.80,487.81) rotate(-90)" x="0" y="0" font-size="9.8" textLength="80.13" lengthAdjust="spacingAndGlyphs" fill="#1e1e1e" stroke="#1e1e1e" stroke-width="0.22">Mean Distance(km)</text>
<text x="424.10" y="524.10" font-size="11.4" textLength="51.45" lengthAdjust="spacingAndGlyphs" fill="#1e1e1e" stroke="#1e1e1e" stroke-width="0.22">Weekdays</text>
<text x="538.31" y="524.10" font-size="11.4" textLength="43.85" lengthAdjust="spacingAndGlyphs" fill="#1e1e1e" stroke="#1e1e1e" stroke-width="0.22">Holidays</text>
<rect x="630.3" y="65.0" width="53.4" height="75.0" rx="2" ry="2" fill="#fff" stroke="#d6d6d6" stroke-width="0.8"/>
<text x="641.46" y="78.10" font-size="10.2" textLength="30.09" lengthAdjust="spacingAndGlyphs" fill="#1e1e1e" stroke="#1e1e1e" stroke-width="0.2">Month</text>
<line x1="636.1" y1="87.40" x2="655.9" y2="87.40" stroke="#a9cdb5" stroke-width="1.0"/>
<text x="661.11" y="90.50" font-size="9.8" textLength="14.74" lengthAdjust="spacingAndGlyphs" fill="#1e1e1e" stroke="#1e1e1e" stroke-width="0.2">Jan</text>
<line x1="636.1" y1="102.97" x2="655.9" y2="102.97" stroke="#cdcdcd" stroke-width="1.0"/>
<text x="660.46" y="106.07" font-size="9.8" textLength="16.59" lengthAdjust="spacingAndGlyphs" fill="#1e1e1e" stroke="#1e1e1e" stroke-width="0.2">Feb</text>
<line x1="636.1" y1="118.54" x2="655.9" y2="118.54" stroke="#5a78a6" stroke-width="1.0"/>
<text x="660.44" y="121.64" font-size="9.8" textLength="16.97" lengthAdjust="spacingAndGlyphs" fill="#1e1e1e" stroke="#1e1e1e" stroke-width="0.2">Mar</text>
<line x1="636.1" y1="134.11" x2="655.9" y2="134.11" stroke="#2f2f3a" stroke-width="1.0"/>
<text x="662.33" y="137.21" font-size="9.8" textLength="14.47" lengthAdjust="spacingAndGlyphs" fill="#1e1e1e" stroke="#1e1e1e" stroke-width="0.2">Apr</text>
</svg>
</body></html>
